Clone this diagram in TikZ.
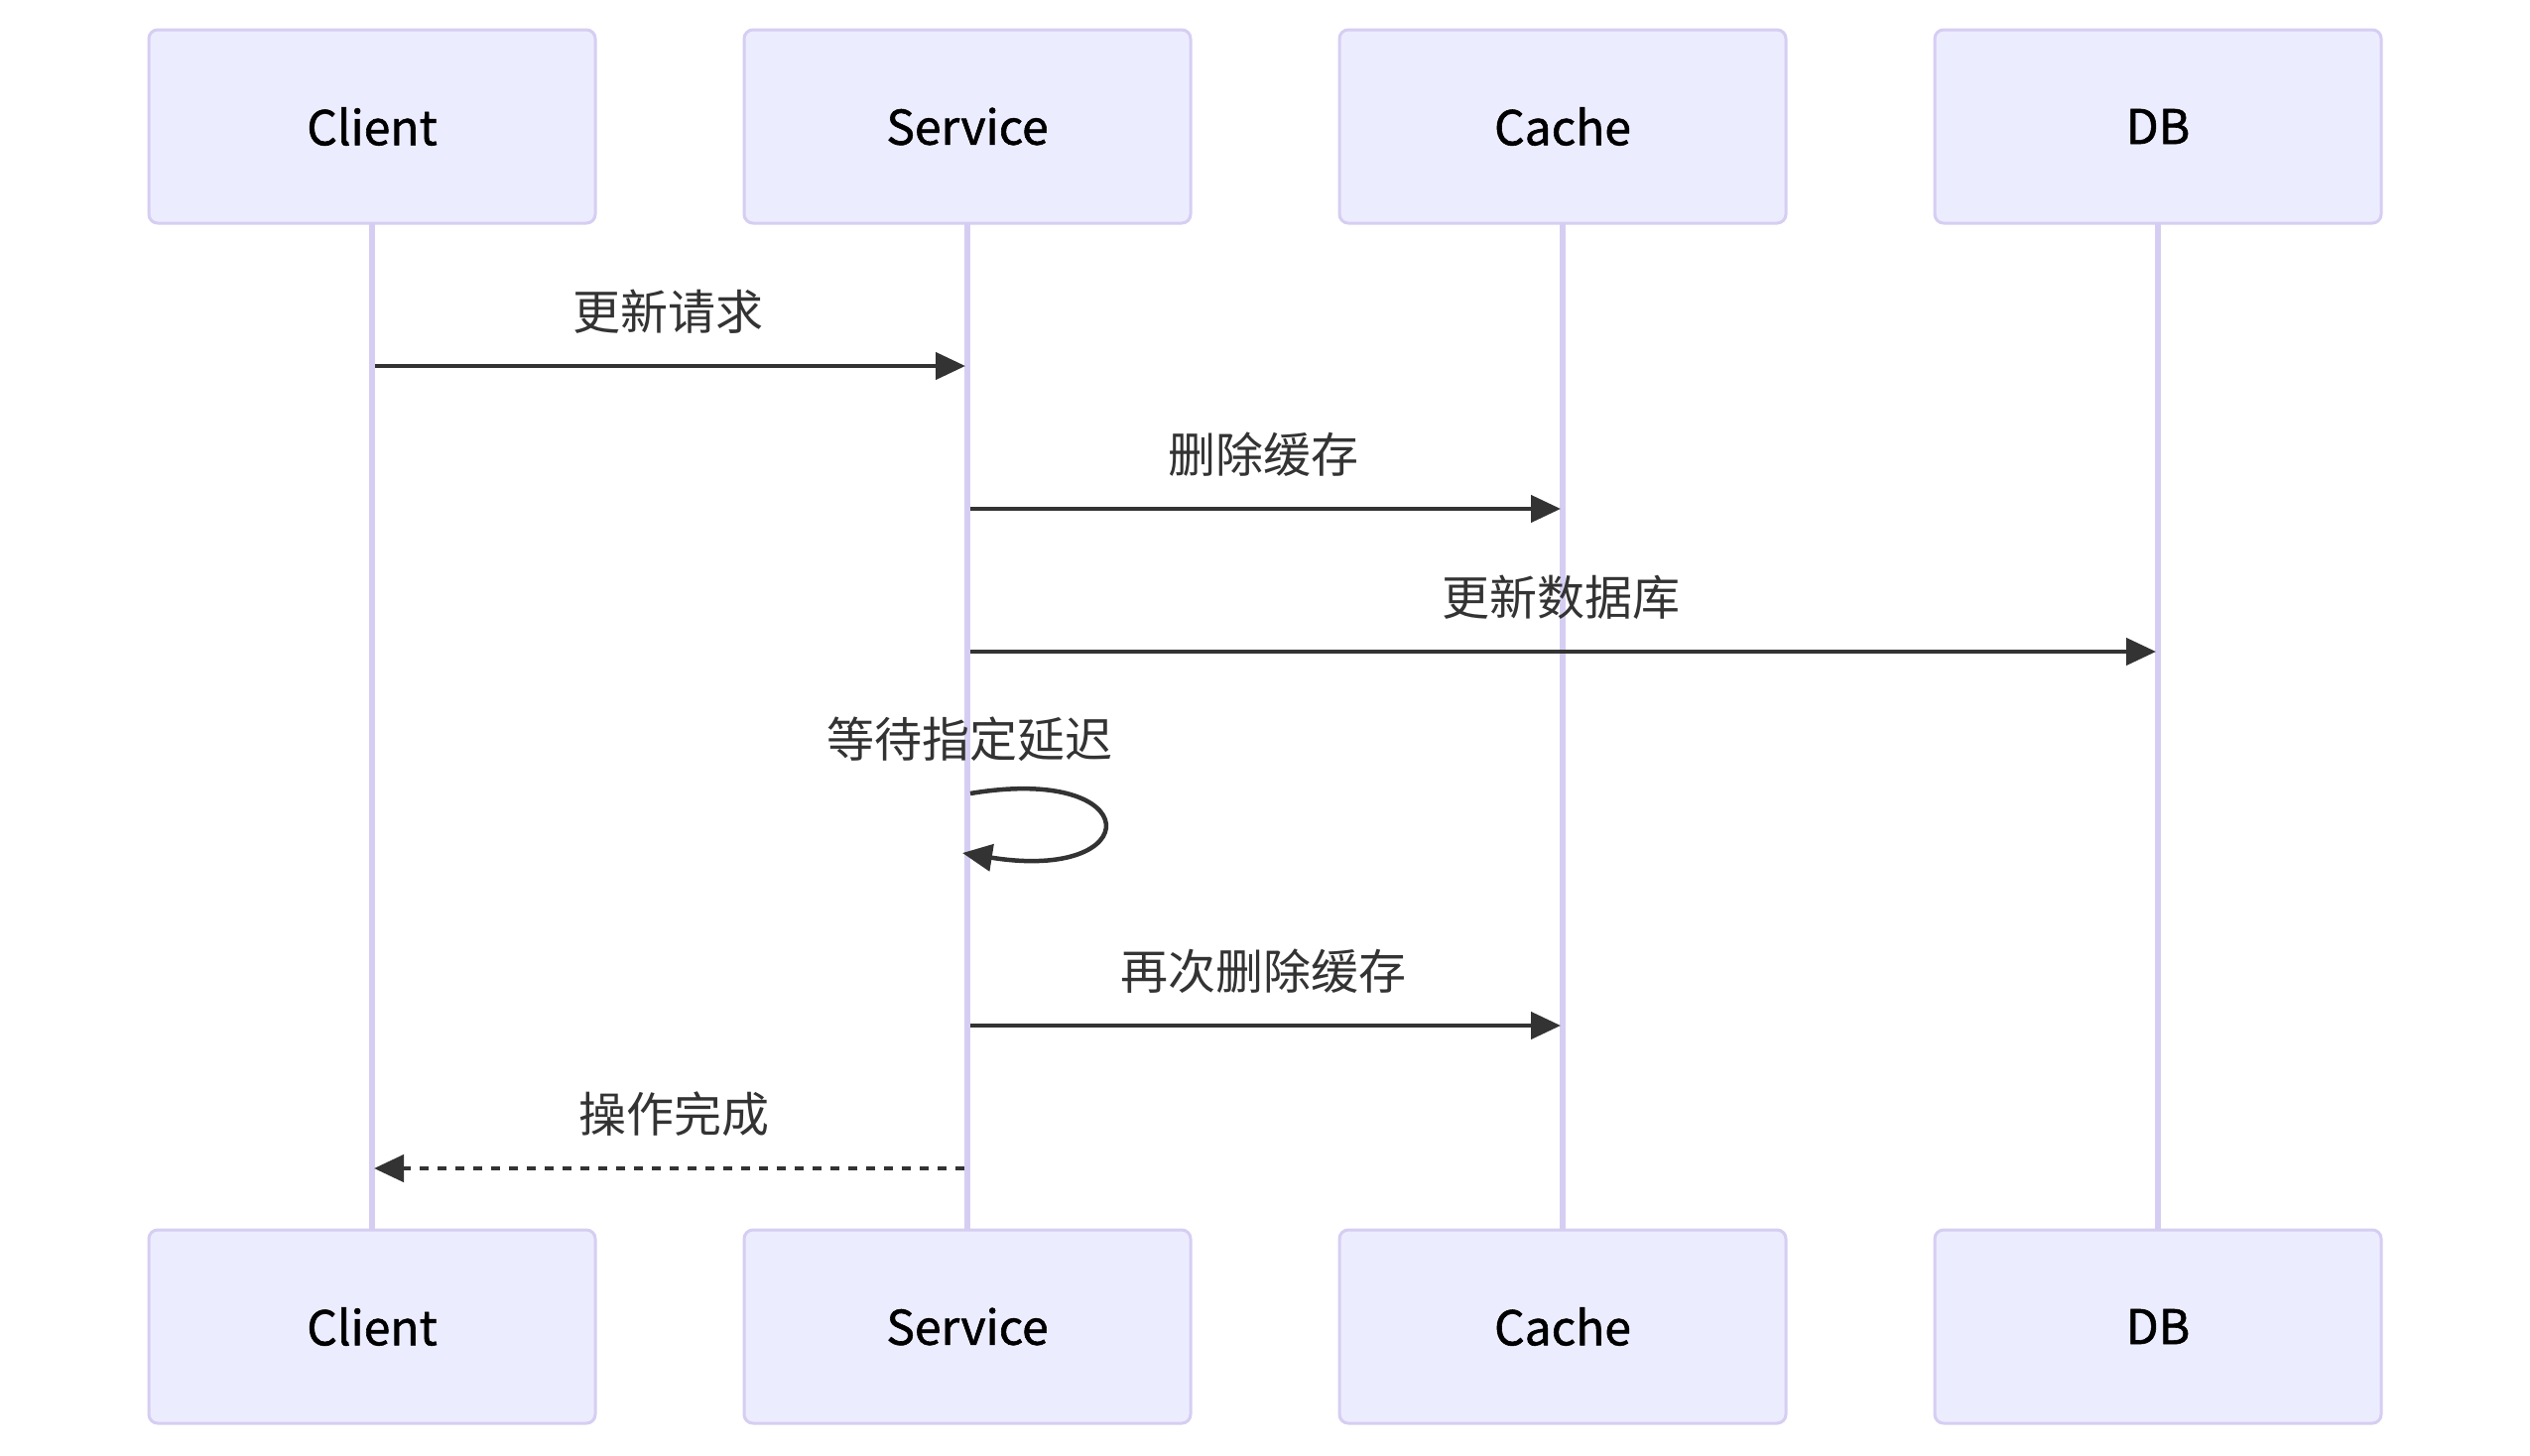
\documentclass[tikz,border=0pt]{standalone}
\usepackage{fontspec}
\setmainfont{Noto Sans CJK SC}
\newfontfamily\actorfont{Noto Sans CJK SC}[FakeBold=1.2]
\usetikzlibrary{arrows.meta}
\definecolor{actfill}{HTML}{ECECFF}
\definecolor{actline}{HTML}{D6CEF2}
\definecolor{msgcol}{HTML}{333333}
\begin{document}
\begin{tikzpicture}[x=1pt,y=-1pt,
  actor/.style={draw=actline, fill=actfill, line width=3pt, rounded corners=9pt,
    minimum width=450pt, minimum height=195pt, inner sep=0pt,
    font=\actorfont\fontsize{48}{58}\selectfont, text=black},
  life/.style={draw=actline, line width=6pt},
  msgline/.style={draw=msgcol, line width=4.5pt, -{Triangle[length=30pt,width=27pt]}},
  msglabel/.style={font=\fontsize{48}{58}\selectfont, text=msgcol, inner sep=0pt, anchor=base}]
\useasboundingbox (0,0) rectangle (2550,1467);
\fill[white] (0,0) rectangle (2550,1467);

% lifelines
\draw[life] (375,225) -- (375,1240);
\draw[life] (975,225) -- (975,1240);
\draw[life] (1575,225) -- (1575,1240);
\draw[life] (2175,225) -- (2175,1240);

% actors top
\node[actor] (clientT) at (375,127.5) {Client};
\node[actor] (serviceT) at (975,127.5) {Service};
\node[actor] (cacheT) at (1575,127.5) {Cache};
\node[actor] (dbT) at (2175,127.5) {DB};
% actors bottom
\node[actor] (clientB) at (375,1337.5) {Client};
\node[actor] (serviceB) at (975,1337.5) {Service};
\node[actor] (cacheB) at (1575,1337.5) {Cache};
\node[actor] (dbB) at (2175,1337.5) {DB};

% message end points
\coordinate (m1s) at (378,369);  \coordinate (m1e) at (973,369);
\coordinate (m2s) at (978,513);  \coordinate (m2e) at (1573,513);
\coordinate (m3s) at (978,657);  \coordinate (m3e) at (2173,657);
\coordinate (m4s) at (978,800);  \coordinate (m4e) at (970,860);
\coordinate (m5s) at (978,1034); \coordinate (m5e) at (1573,1034);
\coordinate (m6s) at (972,1178); \coordinate (m6e) at (377,1178);

\draw[msgline] (m1s) -- (m1e);
\node[msglabel] (l1) at (673,332) {更新请求};

\draw[msgline] (m2s) -- (m2e);
\node[msglabel] (l2) at (1273,476) {删除缓存};

\draw[msgline] (m3s) -- (m3e);
\node[msglabel] (l3) at (1573,620) {更新数据库};

\draw[msgline] (m4s) .. controls (1157,770) and (1157,890) .. (m4e);
\node[msglabel] (l4) at (977,763) {等待指定延迟};

\draw[msgline] (m5s) -- (m5e);
\node[msglabel] (l5) at (1273,997) {再次删除缓存};

\draw[msgline, dash pattern=on 9pt off 9pt] (m6s) -- (m6e);
\node[msglabel] (l6) at (679,1141) {操作完成};
\end{tikzpicture}
\end{document}
